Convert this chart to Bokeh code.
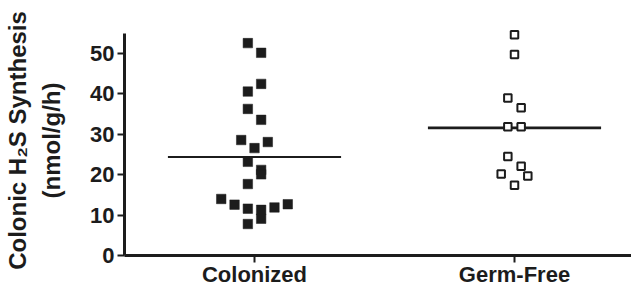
import numpy as np
from bokeh.plotting import figure
from bokeh.models import Range1d, FixedTicker, LinearAxis, ColumnDataSource
from bokeh.embed import file_html
from bokeh.resources import INLINE

# ---- data ----
categories = ["Colonized", "Germ-Free"]
colonized_values = [52.6, 50.2, 42.5, 40.6, 36.3, 33.6, 28.6, 28.1, 26.6, 23.2, 21.2,
                    20.1, 17.7, 14.0, 12.6, 11.6, 11.3, 11.9, 12.7, 9.1, 7.8]
colonized_slots = [-1, 1, 1, -1, -1, 1, -2, 2, 0, -1, 1,
                   1, -1, -5, -3, -1, 1, 3, 5, 1, -1]
germfree_values = [54.7, 49.8, 39.0, 36.6, 31.9, 31.9, 24.5, 22.1, 20.2, 19.7, 17.4]
germfree_slots = [0, 0, -1, 1, -1, 1, -1, 1, -2, 2, 0]
y_ticks = [0, 10, 20, 30, 40, 50]
y_axis_max = 55
y_label_line1 = "Colonic H\u2082S Synthesis"
y_label_line2 = "(nmol/g/h)"

# ---- styles ----
FONT = "Liberation Sans"
INK = "#1c1c1c"
SLOT = 0.0256      # horizontal spread step of the scatter (category units)
HALF = 0.333       # half width of mean line

W, H = 631, 289
LEFT, TOP, BOTTOM = 124, 25, 32
frame_h = H - TOP - BOTTOM
px_per_unit = 224 / y_axis_max
y_top = frame_h / px_per_unit

p = figure(width=W, height=H, output_backend="svg", toolbar_location=None,
           x_range=Range1d(0.5, 0.5 + (W - LEFT) / 260), y_range=Range1d(0, y_top),
           min_border_left=LEFT, min_border_right=0, min_border_top=TOP,
           min_border_bottom=BOTTOM)
p.outline_line_color = None
p.grid.visible = False
p.background_fill_color = "white"
p.border_fill_color = "white"

pos = {c: i + 1 for i, c in enumerate(categories)}

src_c = ColumnDataSource(dict(
    x=[pos["Colonized"] + s * SLOT for s in colonized_slots], y=colonized_values))
src_g = ColumnDataSource(dict(
    x=[pos["Germ-Free"] + s * SLOT for s in germfree_slots], y=germfree_values))

# mean lines
mc = float(np.mean(colonized_values))
mg = float(np.mean(germfree_values))
p.segment(x0=[pos["Colonized"] - HALF], x1=[pos["Colonized"] + HALF], y0=[mc], y1=[mc],
          line_color=INK, line_width=1.8)
p.segment(x0=[pos["Germ-Free"] - HALF], x1=[pos["Germ-Free"] + HALF], y0=[mg], y1=[mg],
          line_color=INK, line_width=2.8)

p.scatter("x", "y", source=src_c, marker="square", size=9.5,
          fill_color=INK, line_color=INK, line_width=0.5)
p.scatter("x", "y", source=src_g, marker="square", size=7.5,
          fill_color="white", line_color=INK, line_width=2)

# axes
for ax in (p.xaxis[0], p.yaxis[0]):
    ax.axis_line_width = 3
    ax.axis_line_color = INK
    ax.major_tick_line_width = 2
    ax.major_tick_line_color = INK
    ax.minor_tick_line_color = None
    ax.major_tick_in = 0
    ax.major_label_text_font = FONT
    ax.major_label_text_font_style = "bold"
    ax.major_label_text_font_size = "22px"
    ax.major_label_text_color = INK

p.yaxis.ticker = FixedTicker(ticks=y_ticks)
p.yaxis.bounds = (0, y_axis_max)
p.yaxis.major_tick_out = 7
p.yaxis.major_label_standoff = 3
p.yaxis.axis_label = y_label_line2
p.yaxis.axis_label_standoff = 22

p.xaxis.ticker = FixedTicker(ticks=[pos[c] for c in categories])
p.xaxis.major_label_overrides = {pos[c]: c for c in categories}
p.xaxis.major_tick_out = 7
p.xaxis.major_label_standoff = -1

outer = LinearAxis(ticker=FixedTicker(ticks=[]), axis_line_color=None,
                   major_tick_line_color=None, minor_tick_line_color=None,
                   major_label_text_font_size="0px",
                   axis_label=y_label_line1, axis_label_standoff=5)
p.add_layout(outer, "left")

for ax in (p.yaxis[0], outer):
    ax.axis_label_text_font = FONT
    ax.axis_label_text_font_style = "bold"
    ax.axis_label_text_font_size = "24px"
    ax.axis_label_text_color = INK

open("out.html", "w").write(file_html(p, INLINE))
